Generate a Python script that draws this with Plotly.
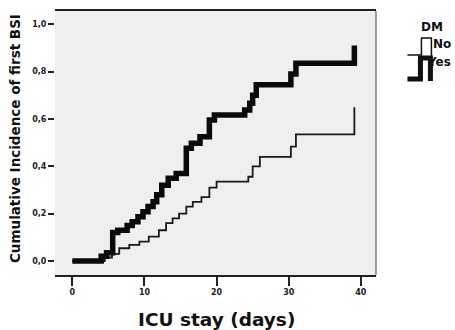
import plotly.graph_objects as go

# ---- data ----
days_yes = [0, 4.0, 4.75, 5.6, 6.3, 7.6, 8.3, 9.1, 9.8, 10.5, 11.2, 11.7, 12.4, 13.3, 14.4,
            15.8, 16.5, 17.7, 19.0, 19.7, 23.9, 24.6, 25.0, 25.5, 30.3, 31.0, 39.1]
inc_yes = [0, 0.02, 0.035, 0.12, 0.13, 0.15, 0.166, 0.187, 0.208, 0.23, 0.25, 0.28, 0.32, 0.35, 0.37,
           0.476, 0.497, 0.525, 0.596, 0.617, 0.638, 0.666, 0.70, 0.745, 0.79, 0.835, 0.91]

days_no = [0, 4.5, 5.5, 6.5, 7.9, 9.3, 10.6, 12.0, 13.0, 13.9, 14.8, 15.8, 16.7, 17.9, 19.0,
           20.0, 24.4, 25.0, 26.0, 30.3, 31.0, 39.1]
inc_no = [0, 0.015, 0.03, 0.054, 0.068, 0.082, 0.103, 0.13, 0.16, 0.18, 0.20, 0.23, 0.25, 0.27, 0.31,
          0.335, 0.356, 0.40, 0.44, 0.483, 0.535, 0.65]

x_ticks = [0, 10, 20, 30, 40]
x_tick_labels = ["0", "10", "20", "30", "40"]
y_ticks = [0.0, 0.2, 0.4, 0.6, 0.8, 1.0]
y_tick_labels = ["0,0", "0,2", "0,4", "0,6", "0,8", "1,0"]

W, H = 455, 330
L, R, T, B = 55, 376.5, 11, 275
FONT = "DejaVu Sans"


def px(x):
    return (x - L) / (R - L)


def py(y):
    return (B - y) / (B - T)


fig = go.Figure()
fig.add_trace(go.Scatter(x=days_no, y=inc_no, mode="lines", line=dict(shape="hv", width=1.8, color="#1a1a1a"),
                         name="No", showlegend=False))
fig.add_trace(go.Scatter(x=days_yes, y=inc_yes, mode="lines", line=dict(shape="hv", width=5.5, color="#0a0a0a"),
                         name="Yes", showlegend=False))

tickfont = dict(family=FONT, size=8, color="#222", weight="bold")

fig.update_layout(
    width=W, height=H,
    margin=dict(l=L, r=W - R, t=T, b=H - B, autoexpand=False),
    paper_bgcolor="white",
    plot_bgcolor="#efefef",
    xaxis=dict(range=[-2.4, 42.1], tickvals=x_ticks, ticktext=x_tick_labels, ticks="outside", ticklen=9,
               tickwidth=1.8, tickcolor="#222", showgrid=False, zeroline=False, showline=True, linecolor="#222",
               linewidth=1.5, mirror=True, tickfont=tickfont, automargin=False),
    yaxis=dict(range=[-0.059, 1.056], tickvals=y_ticks, ticktext=y_tick_labels, ticks="outside", ticklen=6,
               tickwidth=1.8, tickcolor="#222", showgrid=False, zeroline=False, showline=False, tickfont=tickfont,
               automargin=False),
)

# axis titles
fig.add_annotation(text="ICU stay (days)", xref="paper", yref="paper", x=px(217), y=py(319), showarrow=False,
                   xanchor="center", yanchor="middle",
                   font=dict(family=FONT, size=18.5, color="#111", weight="bold"))
fig.add_annotation(text="Cumulative Incidence of first BSI", xref="paper", yref="paper", x=px(15), y=py(139),
                   showarrow=False, xanchor="center", yanchor="middle", textangle=-90,
                   font=dict(family=FONT, size=13.5, color="#111", weight="bold"))

# right border of the plot frame
fig.add_shape(type="line", xref="paper", yref="paper", x0=1, x1=1, y0=0, y1=1, line=dict(color="#444", width=1))

# legend (SPSS-style step glyphs)
thin_path = "M {},{} L {},{} L {},{} L {},{} L {},{}".format(
    px(408), py(55), px(422), py(55), px(422), py(38), px(432), py(38), px(432), py(58))
thick_path = "M {},{} L {},{} L {},{} L {},{} L {},{}".format(
    px(408), py(79), px(421), py(79), px(421), py(58), px(431), py(58), px(431), py(81))

legfont = dict(family=FONT, size=12, color="#111", weight="bold")
fig.add_annotation(text="DM", xref="paper", yref="paper", x=px(433), y=py(27), showarrow=False,
                   xanchor="center", yanchor="middle", font=legfont)
fig.add_annotation(text="No", xref="paper", yref="paper", x=px(432), y=py(44), showarrow=False,
                   xanchor="left", yanchor="middle", font=legfont)
fig.add_annotation(text="Yes", xref="paper", yref="paper", x=px(426), y=py(62), showarrow=False,
                   xanchor="left", yanchor="middle", font=legfont)
fig.add_shape(type="path", xref="paper", yref="paper", path=thin_path, line=dict(color="#111", width=1.5))
fig.add_shape(type="path", xref="paper", yref="paper", path=thick_path, line=dict(color="#111", width=5))

fig.write_html("out.html")
